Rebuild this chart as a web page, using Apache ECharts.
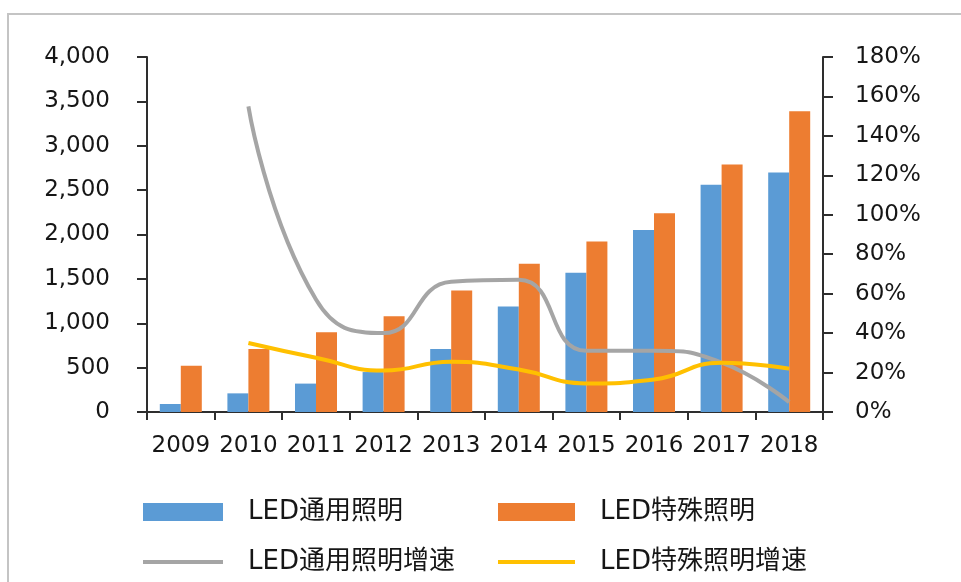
<!DOCTYPE html>
<html>
<head>
<meta charset="utf-8">
<script src="https://cdn.jsdelivr.net/npm/echarts@6/dist/echarts.min.js"></script>
<style>
html,body{margin:0;padding:0;background:#fff;}
#chart{width:961px;height:582px;}
</style>
</head>
<body>
<div id="chart"></div>
<script>
const categories = ['2009','2010','2011','2012','2013','2014','2015','2016','2017','2018'];
const generalLighting = [90, 210, 320, 450, 710, 1190, 1570, 2050, 2560, 2700];
const specialLighting = [520, 710, 900, 1080, 1370, 1670, 1920, 2240, 2790, 3390];
const generalGrowth = [null, 155, 57, 40, 66, 67, 31, 31, 25, 5];
const specialGrowth = [null, 35, 27.5, 21, 25.5, 21.5, 14.5, 16.5, 25, 22];
const seriesNames = ['LED通用照明', 'LED特殊照明', 'LED通用照明增速', 'LED特殊照明增速'];
const leftTicks = {min: 0, max: 4000, interval: 500};
const rightTicks = {min: 0, max: 180, interval: 20};

const FONT = 'DejaVu Sans, Noto Sans CJK SC, sans-serif';
const TXT = '#161616';
const AX = '#2e2e2e';

function comma(v){ return String(v).replace(/\B(?=(\d{3})+(?!\d))/g, ','); }

const chart = echarts.init(document.getElementById('chart'));
const legendBase = {
  textStyle: {fontFamily: FONT, fontSize: 26, color: TXT, padding: [0,0,0,20]},
  selectedMode: false
};
chart.setOption({
  animation: false,
  backgroundColor: '#fff',
  graphic: [{
    type: 'polyline',
    shape: {points: [[8, 590], [8, 14], [970, 14]]},
    style: {stroke: '#c4c4c4', lineWidth: 2, fill: null}
  }],
  grid: {left: 147, right: 138, top: 57, bottom: 170, containLabel: false},
  legend: [
    Object.assign({left: 138, top: 494, itemWidth: 80, itemHeight: 18, icon: 'rect', data: [seriesNames[0]]}, legendBase),
    Object.assign({left: 493, top: 494, itemWidth: 77, itemHeight: 18, icon: 'rect', data: [seriesNames[1]]}, legendBase),
    Object.assign({left: 138, top: 544, itemWidth: 80, itemHeight: 4, icon: 'rect', data: [seriesNames[2]]}, legendBase),
    Object.assign({left: 493, top: 544, itemWidth: 77, itemHeight: 4, icon: 'rect', data: [seriesNames[3]]}, legendBase)
  ],
  xAxis: {
    type: 'category',
    data: categories,
    axisLine: {lineStyle: {color: AX, width: 2}},
    axisTick: {show: true, length: 8, lineStyle: {color: AX, width: 2}},
    axisLabel: {fontFamily: FONT, fontSize: 23, color: TXT, margin: 23, interval: 0}
  },
  yAxis: [{
    type: 'value',
    min: leftTicks.min, max: leftTicks.max, interval: leftTicks.interval,
    position: 'left',
    splitLine: {show: false},
    axisLine: {show: true, lineStyle: {color: AX, width: 2}},
    axisTick: {show: true, length: 10, lineStyle: {color: AX, width: 2}},
    axisLabel: {fontFamily: FONT, fontSize: 23, color: TXT, margin: 37, formatter: v => comma(v)}
  }, {
    type: 'value',
    min: rightTicks.min, max: rightTicks.max, interval: rightTicks.interval,
    position: 'right',
    splitLine: {show: false},
    axisLine: {show: true, lineStyle: {color: AX, width: 2}},
    axisTick: {show: true, length: 10, lineStyle: {color: AX, width: 2}},
    axisLabel: {fontFamily: FONT, fontSize: 23, color: TXT, margin: 32, formatter: v => v + '%'}
  }],
  series: [{
    name: seriesNames[0], type: 'bar', data: generalLighting,
    barWidth: 21, barGap: '0%', itemStyle: {color: '#5B9BD5'}
  }, {
    name: seriesNames[1], type: 'bar', data: specialLighting,
    barWidth: 21, barGap: '0%', itemStyle: {color: '#ED7D31'}
  }, {
    name: seriesNames[2], type: 'line', yAxisIndex: 1, data: generalGrowth,
    smooth: 0.5, showSymbol: false, symbol: 'none',
    lineStyle: {color: '#A5A5A5', width: 4}, itemStyle: {color: '#A5A5A5'}
  }, {
    name: seriesNames[3], type: 'line', yAxisIndex: 1, data: specialGrowth,
    smooth: 0.5, showSymbol: false, symbol: 'none',
    lineStyle: {color: '#FFC000', width: 4}, itemStyle: {color: '#FFC000'}
  }]
});
</script>
</body>
</html>
